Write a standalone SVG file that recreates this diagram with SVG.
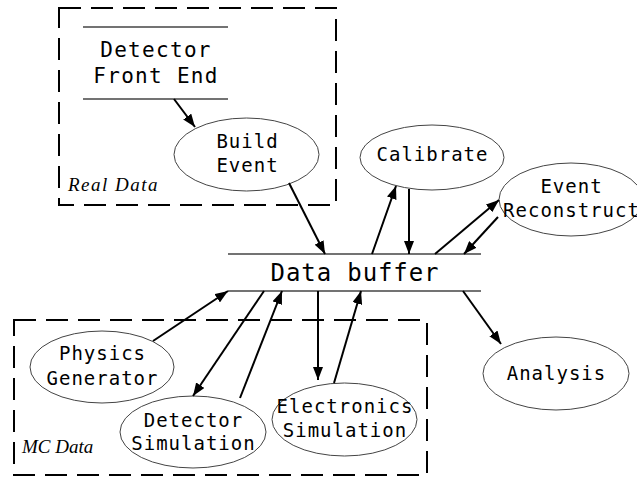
<svg xmlns="http://www.w3.org/2000/svg" width="637" height="483" viewBox="0 0 637 483">
<defs>
<marker id="ah" markerUnits="userSpaceOnUse" markerWidth="14" markerHeight="10" refX="13" refY="5" orient="auto">
<path d="M0,0 L13,5 L0,10 z" fill="#000"/>
</marker>
<style>
.bg{fill:#fff}
.ell{fill:#fff;stroke:#444;stroke-width:1}
.hl{stroke:#444;stroke-width:1.3}
.box{fill:none;stroke:#000;stroke-width:2;stroke-dasharray:22,10}
.t{font-family:"DejaVu Sans Mono",monospace;font-size:19px;letter-spacing:1px;text-anchor:middle;fill:#000}
.big{font-size:21px;letter-spacing:1.3px}
.buf{font-size:24px;letter-spacing:0.9px}
.lab{font-family:"Liberation Serif",serif;font-style:italic;font-size:19px;fill:#000}
.c line{stroke:#000;stroke-width:2;marker-end:url(#ah)}
</style>
</defs>
<rect class="bg" width="637" height="483"/>
<g id="realdata">
<rect class="box" x="59" y="8" width="277" height="197"/>
<text class="lab" x="68" y="191" letter-spacing="1.5">Real Data</text>
</g>
<g id="mcdata">
<rect class="box" x="14" y="320" width="413" height="155"/>
<text class="lab" x="22" y="453">MC Data</text>
</g>
<g id="frontend">
<line class="hl" x1="83" y1="27" x2="228" y2="27"/>
<line class="hl" x1="83" y1="99" x2="228" y2="99"/>
<text class="t big" x="156" y="57">Detector</text>
<text class="t big" x="156" y="83">Front End</text>
</g>
<g id="buildevent">
<ellipse class="ell" cx="246.5" cy="154.5" rx="72.5" ry="36.5"/>
<text class="t" x="247.5" y="148">Build</text>
<text class="t" x="247.5" y="172">Event</text>
</g>
<g id="calibrate">
<ellipse class="ell" cx="432" cy="157.5" rx="72" ry="32.5"/>
<text class="t" x="432.5" y="161">Calibrate</text>
</g>
<g id="eventreco">
<ellipse class="ell" cx="571" cy="199.5" rx="72" ry="36.5"/>
<text class="t" x="571.5" y="193">Event</text>
<text class="t" x="571.5" y="217">Reconstruct</text>
</g>
<g id="databuffer">
<line class="hl" x1="228" y1="254" x2="481" y2="254"/>
<line class="hl" x1="228" y1="291" x2="481" y2="291"/>
<text class="t buf" x="355" y="281">Data buffer</text>
</g>
<g id="physics">
<ellipse class="ell" cx="102" cy="367" rx="72" ry="36"/>
<text class="t" x="102.5" y="360">Physics</text>
<text class="t" x="102.5" y="385">Generator</text>
</g>
<g id="detsim">
<ellipse class="ell" cx="193" cy="432" rx="73" ry="36"/>
<text class="t" x="193.5" y="427">Detector</text>
<text class="t" x="193.5" y="450">Simulation</text>
</g>
<g id="elecsim">
<ellipse class="ell" cx="344.5" cy="419.5" rx="72.5" ry="36.5"/>
<text class="t" x="345" y="413">Electronics</text>
<text class="t" x="345" y="437">Simulation</text>
</g>
<g id="analysis">
<ellipse class="ell" cx="556" cy="373.5" rx="73" ry="36.5"/>
<text class="t" x="556.5" y="380">Analysis</text>
</g>
<g id="connectors" class="c">
<line x1="174" y1="99" x2="195" y2="127"/>
<line x1="289" y1="183" x2="325" y2="254"/>
<line x1="372" y1="254" x2="396" y2="186"/>
<line x1="409" y1="189" x2="409" y2="254"/>
<line x1="435" y1="254" x2="499" y2="200"/>
<line x1="498" y1="217" x2="464" y2="254"/>
<line x1="153" y1="341" x2="228" y2="291"/>
<line x1="264" y1="291" x2="193" y2="396"/>
<line x1="240" y1="398" x2="282" y2="291"/>
<line x1="318" y1="291" x2="318" y2="380"/>
<line x1="334" y1="383" x2="361" y2="291"/>
<line x1="463" y1="291" x2="501" y2="344"/>
</g>
</svg>
